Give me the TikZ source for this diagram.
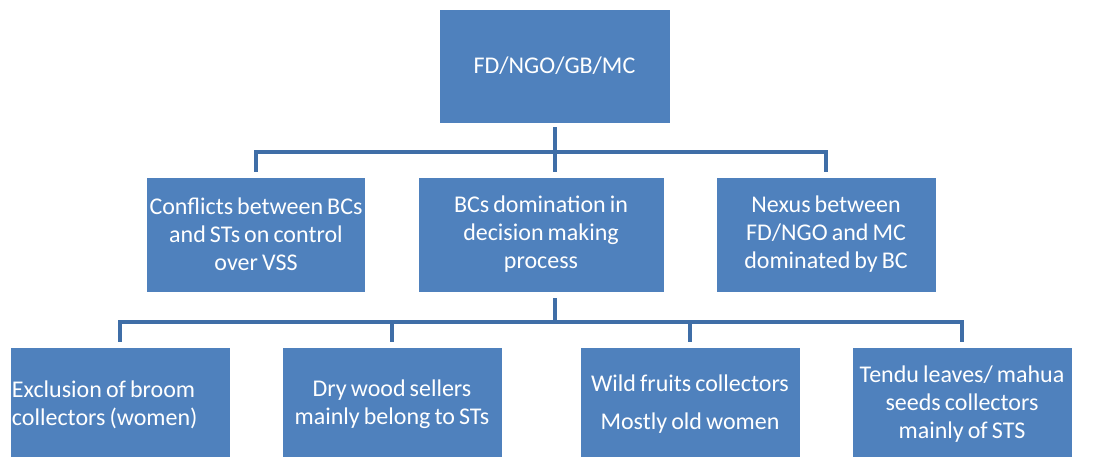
\documentclass[tikz,border=0pt]{standalone}
\usepackage{fontspec}
\setmainfont[WordSpace=0.75]{Carlito}
\definecolor{boxblue}{HTML}{4F81BD}
\definecolor{linkblue}{RGB}{63,110,167}
\begin{document}
\begin{tikzpicture}[x=1pt, y=1pt,
		box/.style={fill=boxblue, draw=white, line width=.6pt, text=white,
			inner sep=1pt, minimum height=115pt, align=center,
			font=\fontsize{24}{28}\selectfont},
		link/.style={draw=linkblue, line width=4pt}]
	\useasboundingbox (0,0) rectangle (1100,457);

	% top of the hierarchy
	\node[box, minimum width=231pt, minimum height=114pt] (top) at (554.5,391) {FD/NGO/GB/MC};

	% second level
	\node[box, minimum width=219pt] (mid1) at (256,222.5)
		{Conflicts between BCs\\and STs on control\\over VSS};
	\node[box, minimum width=246pt] (mid2) at (541,222.5)
		{BCs domination in\\decision making\\process};
	\node[box, minimum width=220pt] (mid3) at (826,222.5)
		{Nexus between\\FD/NGO and MC\\dominated by BC};

	% third level
	\node[box, minimum width=220pt, text width=216pt, align=flush left] (low1) at (120,52.5)
		{Exclusion of broom\\collectors (women)};
	\node[box, minimum width=220pt] (low2) at (392,52.5)
		{Dry wood sellers\\mainly belong to STs};
	\node[box, minimum width=220pt] (low3) at (690,52.5)
		{Wild fruits collectors\\[10pt]Mostly old women};
	\node[box, minimum width=220pt] (low4) at (962,52.5)
		{Tendu leaves/ mahua\\seeds collectors\\mainly of STS};

	\coordinate (bus1) at (0,305);
	\coordinate (bus2) at (0,135);

	\draw[link] ([yshift=-4pt]top.south) -- (top.south |- bus1);
	\draw[link] ([yshift=5pt]mid1.north) |- (bus1 -| mid3.north) -- ([yshift=5pt]mid3.north);
	\draw[link] (top.south |- bus1) -- ([yshift=5pt]top.south |- mid2.north);

	\draw[link] ([yshift=-6pt]top.south |- mid2.south) -- (top.south |- bus2);
	\draw[link] ([yshift=5pt]low1.north) |- (bus2 -| low4.north) -- ([yshift=5pt]low4.north);
	\draw[link] ([yshift=5pt]low2.north) -- (low2.north |- bus2);
	\draw[link] ([yshift=5pt]low3.north) -- (low3.north |- bus2);
\end{tikzpicture}
\end{document}
